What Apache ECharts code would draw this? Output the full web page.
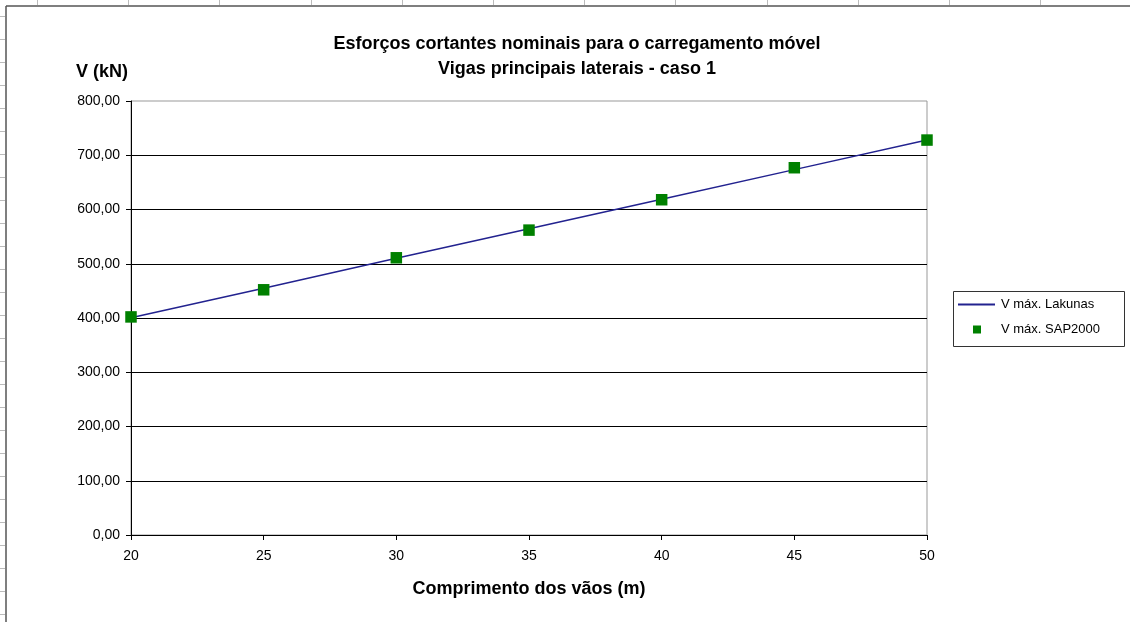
<!DOCTYPE html>
<html>
<head>
<meta charset="utf-8">
<title>Esforços cortantes</title>
<script src="https://cdn.jsdelivr.net/npm/echarts@6/dist/echarts.min.js"></script>
<style>
    html, body { margin: 0; padding: 0; background: #fff; }
    #main { width: 1130px; height: 622px; }
</style>
</head>
<body>
<div id="main"></div>
<script>
//--------------------数据-------------------
var vaos = [20, 25, 30, 35, 40, 45, 50];                    // Comprimento dos vãos (m)
var vLakunas = [400.5, 455, 510, 564.5, 619, 673.5, 728];   // V máx. Lakunas
var vSap = [402, 452, 511, 562, 618, 677, 728];             // V máx. SAP2000
var yTicks = [0, 100, 200, 300, 400, 500, 600, 700, 800];
//--------------------数据-------------------

function pares(xs, ys){
    var out = [];
    for (var i = 0; i < xs.length; i++) out.push([xs[i], ys[i]]);
    return out;
}

var fonte = 'Liberation Sans, Arial, sans-serif';

// moldura da planilha + caixa da legenda (decoração)
var moldura = [
    {type: 'line', shape: {x1: 6, y1: 6, x2: 1130, y2: 6}, style: {stroke: '#555', lineWidth: 1.5}},
    {type: 'line', shape: {x1: 6, y1: 6, x2: 6, y2: 622}, style: {stroke: '#555', lineWidth: 1.5}},
    {type: 'rect', shape: {x: 953.5, y: 291.5, width: 171, height: 55}, style: {fill: '#fff', stroke: '#333', lineWidth: 1}, z: -1}
];
for (var cx = 37; cx < 1130; cx += 91.2) {
    moldura.push({type: 'line', shape: {x1: Math.round(cx) + 0.5, y1: 0, x2: Math.round(cx) + 0.5, y2: 5}, style: {stroke: '#bbb', lineWidth: 1}});
}
for (var cy = 16; cy < 622; cy += 23) {
    moldura.push({type: 'line', shape: {x1: 0, y1: Math.round(cy) + 0.5, x2: 5, y2: Math.round(cy) + 0.5}, style: {stroke: '#bbb', lineWidth: 1}});
}

var myChart = echarts.init(document.getElementById('main'));
var option = {
    backgroundColor: '#fff',
    animation: false,
    textStyle: {fontFamily: fonte},
    graphic: moldura,
    title: {
        text: 'Esforços cortantes nominais para o carregamento móvel\nVigas principais laterais - caso 1',
        left: 572,
        top: 27,
        textAlign: 'center',
        textStyle: {fontSize: 18, fontWeight: 'bold', color: '#000', lineHeight: 25, fontFamily: fonte}
    },
    legend: [
        {
            left: 958,
            top: 298,
            padding: 0,
            itemWidth: 37,
            itemHeight: 2,
            textStyle: {fontSize: 13, color: '#000', padding: [0, 0, 0, 1]},
            data: [{name: 'V máx. Lakunas', icon: 'rect'}]
        },
        {
            left: 973,
            top: 323,
            padding: 0,
            itemWidth: 8,
            itemHeight: 8,
            textStyle: {fontSize: 13, color: '#000', padding: [0, 0, 0, 15]},
            data: [{name: 'V máx. SAP2000', icon: 'rect'}]
        }
    ],
    grid: {
        left: 131,
        right: 203,
        top: 101,
        bottom: 87,
        show: true,
        borderColor: '#999',
        borderWidth: 1,
        backgroundColor: '#fff'
    },
    xAxis: {
        type: 'value',
        min: 20,
        max: 50,
        interval: 5,
        name: 'Comprimento dos vãos (m)',
        nameLocation: 'middle',
        nameGap: 45,
        nameTextStyle: {fontSize: 18, fontWeight: 'bold', color: '#000'},
        axisLine: {lineStyle: {color: '#000', width: 1}},
        axisTick: {show: true, length: 5, lineStyle: {color: '#000'}},
        axisLabel: {fontSize: 14, color: '#000', margin: 14},
        splitLine: {show: false}
    },
    yAxis: {
        type: 'value',
        min: yTicks[0],
        max: yTicks[yTicks.length - 1],
        interval: yTicks[1] - yTicks[0],
        name: 'V (kN)',
        nameLocation: 'end',
        nameGap: 20,
        nameTextStyle: {fontSize: 18, fontWeight: 'bold', color: '#000', align: 'right', padding: [0, 3, 0, 0]},
        axisLine: {show: true, lineStyle: {color: '#000', width: 1}},
        axisTick: {show: true, length: 5, lineStyle: {color: '#000'}},
        axisLabel: {
            fontSize: 14,
            color: '#000',
            margin: 11,
            formatter: function(v){ return v.toFixed(2).replace('.', ','); }
        },
        splitLine: {show: true, showMaxLine: false, lineStyle: {color: '#000', width: 1}}
    },
    series: [
        {
            name: 'V máx. Lakunas',
            type: 'line',
            data: pares(vaos, vLakunas),
            symbol: 'none',
            color: '#22228f',
            lineStyle: {color: '#22228f', width: 1.5},
            z: 3
        },
        {
            name: 'V máx. SAP2000',
            type: 'scatter',
            data: pares(vaos, vSap),
            symbol: 'rect',
            symbolSize: 11.5,
            color: '#008000',
            itemStyle: {color: '#008000', opacity: 1},
            z: 4
        }
    ]
};
myChart.setOption(option);
</script>
</body>
</html>
